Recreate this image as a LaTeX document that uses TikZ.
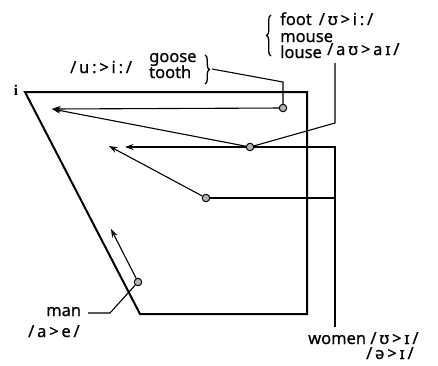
\documentclass[tikz,border=0pt]{standalone}
\usepackage{fontspec}
\setmainfont{Noto Sans}[FakeBold=0.6]
\newfontfamily\serifb{Liberation Serif}
\usetikzlibrary{arrows.meta,decorations.pathreplacing}
\newcommand{\gapx}{\hspace{2.8pt}}
\begin{document}
\begin{tikzpicture}[x=1pt,y=-1pt,
  lbl/.style={inner sep=0pt, anchor=west, text height=10.5pt, text depth=2.5pt, font=\fontsize{16.5}{17}\selectfont},
  frame/.style={line width=2pt},
  conn/.style={line width=1.1pt},
  arr/.style={line width=1.1pt, -{Stealth[length=8.5pt,width=6pt]}},
  dot/.style={circle, draw, line width=1pt, fill=gray!60, minimum size=7.5pt, inner sep=0pt},
  brc/.style={decorate, decoration={brace, amplitude=4.5pt}, line width=1.3pt}]
\useasboundingbox (0,0) rectangle (438,365);
% vowel trapezoid
\coordinate (TL) at (25,92);
\coordinate (TR) at (307,92);
\coordinate (BR) at (307,314);
\coordinate (BL) at (140,314);
\draw[frame] (TL) -- (TR) -- (BR) -- (BL) -- cycle;
\node[inner sep=0pt, font=\serifb\bfseries\fontsize{15}{16}\selectfont] (ilab) at (16,90) {i};
% dots
\node[dot] (goose) at (283,108) {};
\node[dot] (mouse) at (250,147) {};
\node[dot] (schwa) at (206,198) {};
\node[dot] (man) at (138,282) {};
% arrow targets
\coordinate (t1) at (52,109);
\coordinate (t2) at (125,147);
\coordinate (t3) at (109,146);
\coordinate (t4) at (111,229);
\draw[arr] (goose) -- (t1);
\draw[arr] (mouse) -- (t1);
\draw[arr] (mouse) -- (t2);
\draw[arr] (schwa) -- (t3);
\draw[arr] (man) -- (t4);
% labels
\node[lbl] (gv) at (70,69) {/\gapx u\gapx :\gapx >\gapx i\gapx :\gapx/};
\node[lbl] (goosew) at (149,58) {goose};
\node[lbl] (toothw) at (149,74) {tooth};
\draw[brc] (205,55) -- (205,84);
\coordinate (gbr) at (212,69);
\coordinate (g1) at (283,82);
\draw[conn] (gbr) -- (g1) -- (goose);
\draw[brc] (271,56) -- (271,15);
\node[lbl] (footw) at (280,21) {foot \,/\gapx ʊ\gapx >\gapx i\gapx :\gapx /};
\node[lbl] (mousew) at (280,38) {mouse};
\node[lbl] (lousew) at (280,54) {louse};
\node[lbl] (auv) at (327,51) {/\gapx a\gapx ʊ\gapx >\gapx a\gapx ɪ\gapx /};
\coordinate (l0) at (335,63);
\coordinate (l1) at (335,123);
\draw[conn] (l0) -- (l1) -- (mouse);
% women
\coordinate (w0) at (335,327);
\coordinate (w1) at (335,147);
\coordinate (w2) at (335,198);
\draw[conn] (mouse) -- (w1) -- (w0);
\draw[conn] (schwa) -- (w2);
\node[lbl] (womenw) at (308,340) {women /\gapx ʊ\gapx >\gapx ɪ\gapx /};
\node[lbl] (wv2) at (366,355) {/\gapx ə\gapx >\gapx ɪ\gapx /};
% man
\coordinate (m1) at (110,313);
\coordinate (m2) at (88,313);
\draw[conn] (man) -- (m1) -- (m2);
\node[lbl] (manw) at (46,312) {man};
\node[lbl] (mv) at (28,333) {/\gapx a\gapx >\gapx e\gapx /};
\end{tikzpicture}
\end{document}
